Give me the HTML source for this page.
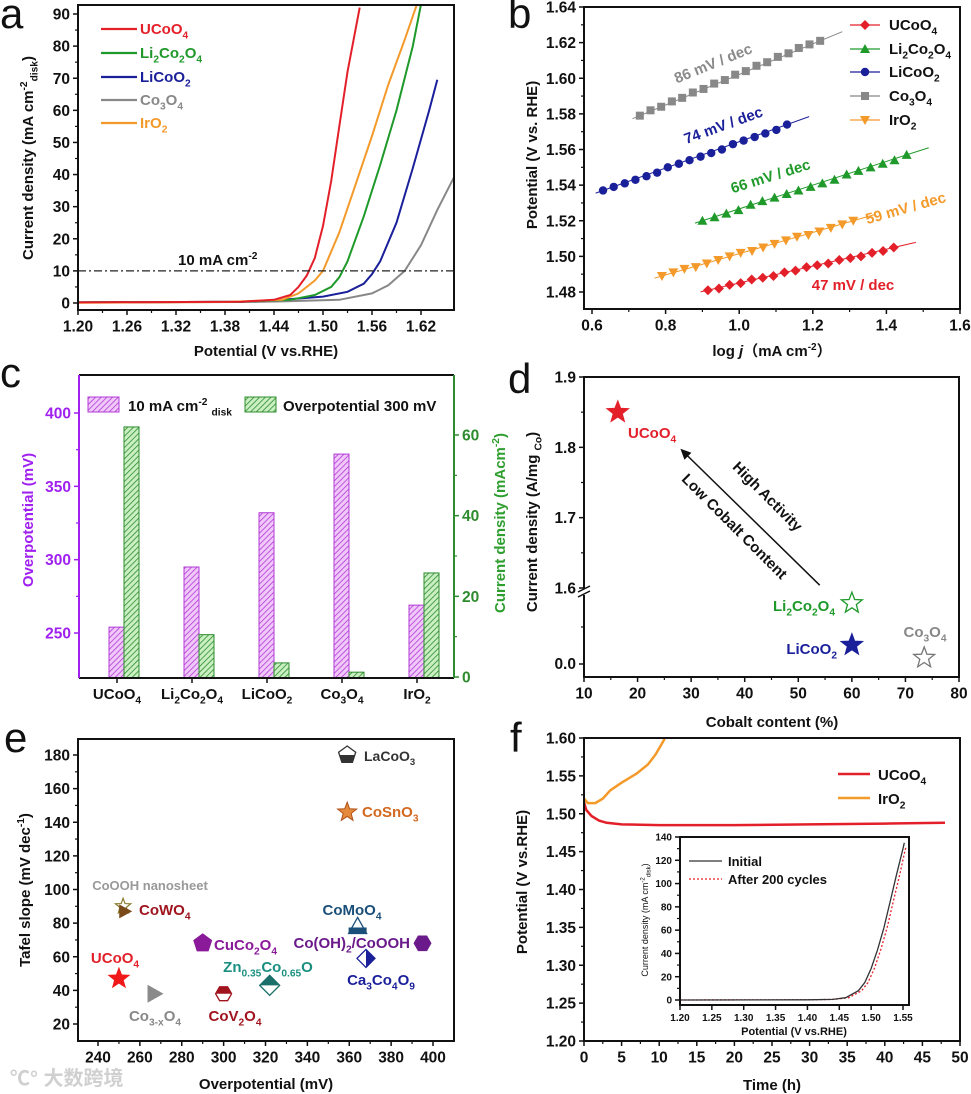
<!DOCTYPE html>
<html><head><meta charset="utf-8">
<style>
html,body{margin:0;padding:0;background:#fff;}
svg{display:block;font-family:"Liberation Sans","Noto Sans CJK SC",sans-serif;}
</style></head>
<body>
<svg id="fig" width="971" height="1094" viewBox="0 0 971 1094">
<defs>
<pattern id="hatchP" patternUnits="userSpaceOnUse" width="4" height="4" patternTransform="rotate(45)">
<rect width="4" height="4" fill="#f0c8fa"/><line x1="0" y1="0" x2="0" y2="4" stroke="#b23ad6" stroke-width="1.6"/></pattern>
<pattern id="hatchG" patternUnits="userSpaceOnUse" width="4" height="4" patternTransform="rotate(45)">
<rect width="4" height="4" fill="#c9efc2"/><line x1="0" y1="0" x2="0" y2="4" stroke="#2e8b2e" stroke-width="1.6"/></pattern>
</defs>
</svg>
<script>
// ---------- Panel a data ----------
const aNames=["UCoO_4","Li_2Co_2O_4","LiCoO_2","Co_3O_4","IrO_2"];
const aColors=["#e3202a","#1f9a2a","#1a1f9a","#888888","#f39a2a"];
const aU_E=[1.20,1.40,1.44,1.46,1.47,1.48,1.49,1.50,1.51,1.52,1.53,1.545];
const aU_J=[0.2,0.4,1,2.5,5,8.5,14,24,38,55,72,92];
const aL2_E=[1.20,1.40,1.46,1.49,1.51,1.52,1.53,1.55,1.57,1.59,1.61,1.62];
const aL2_J=[0.2,0.4,1,2.5,5,8,13,27,43,60,80,93];
const aL_E=[1.20,1.40,1.44,1.50,1.53,1.55,1.56,1.57,1.59,1.61,1.63,1.64];
const aL_J=[0.2,0.4,0.8,2,3.5,6,9,13,25,42,60,69.5];
const aC_E=[1.20,1.40,1.45,1.52,1.56,1.58,1.60,1.62,1.64,1.66];
const aC_J=[0.2,0.3,0.5,1,3,5.5,10,18,29,39];
const aI_E=[1.20,1.38,1.45,1.47,1.49,1.50,1.52,1.54,1.56,1.58,1.60,1.615];
const aI_J=[0.1,0.3,1,3,7,10,22,37,52,68,82,93];
const aXTicks=[1.20,1.26,1.32,1.38,1.44,1.50,1.56,1.62];
const aYTicks=[0,10,20,30,40,50,60,70,80,90];
// ---------- Panel b data ----------
const bU_x=[0.915,0.945,0.974,1.004,1.034,1.064,1.093,1.123,1.153,1.183,1.212,1.242,1.272,1.302,1.331,1.361,1.391,1.42];
const bU_y=[1.481,1.482,1.484,1.485,1.487,1.488,1.489,1.491,1.492,1.494,1.495,1.496,1.498,1.499,1.500,1.502,1.503,1.505];
const bI_x=[0.790,0.821,0.851,0.882,0.912,0.943,0.974,1.004,1.035,1.065,1.096,1.127,1.157,1.188,1.218,1.249,1.280,1.310];
const bI_y=[1.489,1.491,1.493,1.494,1.496,1.498,1.500,1.502,1.503,1.505,1.507,1.509,1.511,1.512,1.514,1.516,1.518,1.520];
const bL2_x=[0.900,0.933,0.965,0.998,1.031,1.063,1.096,1.129,1.161,1.194,1.226,1.259,1.292,1.324,1.357,1.390,1.422,1.455];
const bL2_y=[1.520,1.522,1.524,1.526,1.529,1.531,1.533,1.535,1.537,1.539,1.541,1.543,1.546,1.548,1.550,1.552,1.554,1.557];
const bL_x=[0.630,0.659,0.689,0.718,0.748,0.777,0.806,0.836,0.865,0.895,0.924,0.953,0.983,1.012,1.042,1.071,1.101,1.130];
const bL_y=[1.537,1.539,1.541,1.543,1.545,1.547,1.550,1.552,1.554,1.556,1.558,1.560,1.563,1.565,1.567,1.569,1.571,1.574];
const bC_x=[0.730,0.759,0.788,0.817,0.845,0.874,0.903,0.932,0.961,0.989,1.018,1.047,1.076,1.105,1.134,1.162,1.191,1.220];
const bC_y=[1.579,1.582,1.584,1.587,1.589,1.592,1.594,1.597,1.599,1.602,1.604,1.607,1.609,1.612,1.614,1.617,1.619,1.621];
const bXTicks=[0.6,0.8,1.0,1.2,1.4,1.6];
const bYTicks=[1.48,1.50,1.52,1.54,1.56,1.58,1.60,1.62,1.64];
// ---------- Panel c data ----------
const cCats=["UCoO_4","Li_2Co_2O_4","LiCoO_2","Co_3O_4","IrO_2"];
const cOverpot=[254,295,332,372,269];
const cCurrent=[62,10.5,3.5,1.2,25.8];
const cYLTicks=[250,300,350,400];
const cYRTicks=[0,20,40,60];
// ---------- Panel d data ----------
const dNames=["UCoO_4","Li_2Co_2O_4","LiCoO_2","Co_3O_4"];
const dCobalt=[16.3,60,60,73.5];
const dUpperVal=[1.85,null,null,null];
const dLowerVal=[null,0.80,0.25,0.08];
const dXTicks=[10,20,30,40,50,60,70,80];
const dYUpTicks=[1.6,1.7,1.8,1.9];
// ---------- Panel e data ----------
const eNames=["UCoO_4","Co_{3-x}O_4","CoV_2O_4","Zn_{0.35}Co_{0.65}O","CuCo_2O_4","CoOOH nanosheet","CoWO_4","CoMoO_4","Co(OH)_2/CoOOH","Ca_3Co_4O_9","LaCoO_3","CoSnO_3"];
const eOver=[250,267,300,322,290,252,253,364,395,368,359,359];
const eTafel=[47,38,38,43,68,90,87,78,68,59,180,146];
const eXTicks=[240,260,280,300,320,340,360,380,400];
const eYTicks=[20,40,60,80,100,120,140,160,180];
// ---------- Panel f data ----------
const fU_t=[0,0.3,1,2,3,5,10,20,30,40,48];
const fU_E=[1.515,1.505,1.497,1.491,1.488,1.486,1.485,1.485,1.486,1.487,1.488];
const fI_t=[0,0.5,1.5,2.5,3.5,5,7,8.5,9.5,10.5,11];
const fI_E=[1.52,1.514,1.514,1.52,1.531,1.541,1.553,1.565,1.578,1.595,1.605];
const fInit_E=[1.20,1.40,1.44,1.46,1.48,1.49,1.50,1.51,1.52,1.53,1.54,1.55,1.552];
const fInit_J=[0,0.2,0.5,2,8,15,27,43,62,85,108,130,135];
const fAft_E=[1.20,1.40,1.44,1.465,1.485,1.495,1.505,1.515,1.525,1.535,1.545,1.553,1.555];
const fAft_J=[0,0.2,0.5,2,8,15,27,43,62,85,108,128,132];
const fXTicks=[0,5,10,15,20,25,30,35,40,45,50];
const fYTicks=[1.20,1.25,1.30,1.35,1.40,1.45,1.50,1.55,1.60];
const fIXTicks=[1.20,1.25,1.30,1.35,1.40,1.45,1.50,1.55];
const fIYTicks=[0,20,40,60,80,100,120,140];

// ---------- helpers ----------
const NS="http://www.w3.org/2000/svg";
const svg=document.getElementById('fig');
const TF=15.5;
function mk(tag,attrs,parent){const e=document.createElementNS(NS,tag);for(const k in attrs)e.setAttribute(k,attrs[k]);(parent||svg).appendChild(e);return e;}
function lin(d0,d1,r0,r1){return v=>r0+(v-d0)/(d1-d0)*(r1-r0);}
function grp(name){const g=mk('g',{});


return g;}
function rich(parent,x,y,str,o){
  o=o||{};const fs=o.size||14;
  const t=mk('text',{x:x,y:y,'font-size':fs,'font-weight':o.weight||'bold',fill:o.fill||'#111','text-anchor':o.anchor||'start'},parent);
  if(o.transform)t.setAttribute('transform',o.transform);
  const toks=str.split(/(_\{[^}]*\}|_[^{]|\^\{[^}]*\}|\^[^{])/).filter(s=>s.length);
  let shift=0;
  toks.forEach(tok=>{
    let target=0,size=fs,s=tok;
    if(tok[0]==='_'){target=fs*0.3;size=fs*0.68;s=tok[1]==='{'?tok.slice(2,-1):tok.slice(1);}
    else if(tok[0]==='^'){target=-fs*0.4;size=fs*0.68;s=tok[1]==='{'?tok.slice(2,-1):tok.slice(1);}
    const ts=mk('tspan',{dy:(target-shift).toFixed(2),'font-size':size},t);ts.textContent=s;shift=target;
  });
  return t;
}
function path(parent,pts,attrs){let d=pts.map((p,i)=>(i?'L':'M')+p[0].toFixed(1)+','+p[1].toFixed(1)).join('');return mk('path',Object.assign({d:d,fill:'none'},attrs),parent);}
function box(parent,x0,y0,x1,y1,col){return mk('rect',{x:x0,y:y0,width:x1-x0,height:y1-y0,fill:'none',stroke:col||'#111','stroke-width':2},parent);}
function xTicks(parent,ticks,X,y,minor,x0,x1,fmt,size,col){
  const fs=size||TF;
  ticks.forEach(v=>{const x=X(v);mk('line',{x1:x,y1:y,x2:x,y2:y+5,stroke:col||'#111','stroke-width':1.5},parent);
    rich(parent,x,y+fs+6,fmt(v),{size:fs,anchor:'middle'});});
  if(minor){for(let i=0;i<ticks.length-1;i++){const x=X((ticks[i]+ticks[i+1])/2);if(x>x0&&x<x1)mk('line',{x1:x,y1:y,x2:x,y2:y+3,stroke:col||'#111','stroke-width':1.2},parent);}}
}
function yTicks(parent,ticks,Y,x,fmt,size,col,right,tcol){
  const d=right?1:-1;const fs=size||TF;
  ticks.forEach(v=>{const y=Y(v);mk('line',{x1:x,y1:y,x2:x+5*d,y2:y,stroke:col||'#111','stroke-width':1.5},parent);
    rich(parent,x+8*d,y+fs*0.36,fmt(v),{size:fs,anchor:right?'start':'end',fill:tcol||'#111'});});
  for(let i=0;i<ticks.length-1;i++){const y=Y((ticks[i]+ticks[i+1])/2);mk('line',{x1:x,y1:y,x2:x+3*d,y2:y,stroke:col||'#111','stroke-width':1.2},parent);}
}
function star(cx,cy,r){let p=[];for(let i=0;i<10;i++){const a=-Math.PI/2+i*Math.PI/5;const rr=i%2?r*0.42:r;p.push([cx+rr*Math.cos(a),cy+rr*Math.sin(a)]);}return 'M'+p.map(q=>q[0].toFixed(1)+','+q[1].toFixed(1)).join('L')+'Z';}
function poly(cx,cy,r,n,rot){let p=[];for(let i=0;i<n;i++){const a=(rot===undefined?-Math.PI/2:rot)+i*2*Math.PI/n;p.push([cx+r*Math.cos(a),cy+r*Math.sin(a)]);}return 'M'+p.map(q=>q[0].toFixed(1)+','+q[1].toFixed(1)).join('L')+'Z';}
function letter(x,y,s){const t=mk('text',{x:x,y:y,'font-size':42,fill:'#111'});t.textContent=s;

}

// ================= Panel a =================
(function(){
const g=grp('panel-a-lsv-chart');
const X=lin(1.20,1.62,78,421),Y=lin(0,90,303,14);
const clip=mk('clipPath',{id:'clipA'},svg);mk('rect',{x:78,y:5,width:376,height:305},clip);
const series=[[aU_E,aU_J],[aL2_E,aL2_J],[aL_E,aL_J],[aC_E,aC_J],[aI_E,aI_J]];
[3,2,1,4,0].forEach(i=>{const s=series[i];const p=path(g,s[0].map((e,k)=>[X(e),Y(s[1][k])]),{stroke:aColors[i],'stroke-width':2,'clip-path':'url(#clipA)'});
  
  });
const dl=mk('line',{x1:78,x2:454,y1:Y(10),y2:Y(10),stroke:'#222','stroke-width':1.3,'stroke-dasharray':'8,3,2,3'},g);


rich(g,178,265,'10 mA cm^{-2}',{size:15});
box(g,78,5,454,310);
xTicks(g,aXTicks,X,310,true,78,454,v=>v.toFixed(2));
yTicks(g,aYTicks,Y,78,v=>String(v));
rich(g,266,356,'Potential (V vs.RHE)',{size:15,anchor:'middle'});
rich(g,0,0,'Current density (mA cm^{-2}_{disk})',{size:15,anchor:'middle',transform:'translate(33,158) rotate(-90)'});
const ly=[29,53,77,100,123];
aNames.forEach((n,i)=>{const le=grp('legend-entry-a-'+i);g.appendChild(le);
  mk('line',{x1:101,x2:137,y1:ly[i],y2:ly[i],stroke:aColors[i],'stroke-width':2.2},le);
  rich(le,140,ly[i]+5,n,{size:15,fill:aColors[i]});});
})();
letter(0,28,'a');

// ================= Panel b =================
(function(){
const g=grp('panel-b-tafel-chart');
const X=lin(0.6,1.6,592,960),Y=lin(1.48,1.64,292,7);
const cols=["#e3202a","#1f9a2a","#1a1f9a","#888888","#f39a2a"];
const data=[[bU_x,bU_y,'diamond'],[bL2_x,bL2_y,'tri'],[bL_x,bL_y,'circle'],[bC_x,bC_y,'square'],[bI_x,bI_y,'tridown']];
function marker(par,type,x,y,c){
  if(type==='diamond')return mk('path',{d:`M${x},${y-5}L${x+5},${y}L${x},${y+5}L${x-5},${y}Z`,fill:c},par);
  if(type==='tri')return mk('path',{d:`M${x},${y-5}L${x+5},${y+4}L${x-5},${y+4}Z`,fill:c},par);
  if(type==='tridown')return mk('path',{d:`M${x},${y+5}L${x+5},${y-4}L${x-5},${y-4}Z`,fill:c},par);
  if(type==='circle')return mk('circle',{cx:x,cy:y,r:4.2,fill:c},par);
  return mk('rect',{x:x-4,y:y-4,width:8,height:8,fill:c},par);
}
data.forEach((d,i)=>{
  const sg=grp('series-b-'+aNames[i].replace(/_/g,'').toLowerCase());g.appendChild(sg);
  const n=d[0].length;const sl=(d[1][n-1]-d[1][0])/(d[0][n-1]-d[0][0]);
  mk('line',{x1:X(d[0][0]-0.02),y1:Y(d[1][0]-0.02*sl),x2:X(d[0][n-1]+0.06),y2:Y(d[1][n-1]+0.06*sl),stroke:cols[i],'stroke-width':1},sg);
  d[0].forEach((x,k)=>{const m=marker(sg,d[2],X(x),Y(d[1][k]),cols[i]);
    
    });
});
box(g,584,7,960,309);
xTicks(g,bXTicks,X,309,true,584,960,v=>v.toFixed(1));
yTicks(g,bYTicks,Y,584,v=>v.toFixed(2));
const xt=rich(g,772,356,'log ',{size:15,anchor:'middle'});
const ti=mk('tspan',{'font-style':'italic'},xt);ti.textContent='j';
const t2=mk('tspan',{},xt);t2.textContent='（mA cm';
const t3=mk('tspan',{dy:-6,'font-size':10},xt);t3.textContent='-2';
const t4=mk('tspan',{dy:6},xt);t4.textContent='）';
rich(g,0,0,'Potential (V vs. RHE)',{size:15,anchor:'middle',transform:'translate(537,155) rotate(-90)'});
const labs=[['86 mV / dec',715,68,-22,'#8a8a8a'],['74 mV / dec',725,130,-20,'#1a1f9a'],['66 mV / dec',772,181,-17.5,'#1f9a2a'],['59 mV / dec',907,213,-15.8,'#f39a2a'],['47 mV / dec',853,290,0,'#e3202a']];
labs.forEach(l=>{const t=rich(g,0,0,l[0],{size:15,anchor:'middle',fill:l[4],transform:`translate(${l[1]},${l[2]}) rotate(${l[3]})`});
  
  });
const ly=[25,49,72,96,120];
data.forEach((d,i)=>{const le=grp('legend-entry-b-'+i);g.appendChild(le);
  mk('line',{x1:850,x2:880,y1:ly[i],y2:ly[i],stroke:cols[i],'stroke-width':1.2},le);
  marker(le,d[2],865,ly[i],cols[i]);
  rich(le,889,ly[i]+5,aNames[i],{size:15});});
})();
letter(508,28,'b');

// ================= Panel c =================
(function(){
const g=grp('panel-c-bar-chart');
const Yl=lin(250,400,633,413),Yr=lin(0,60,677,435);
const centers=[117,192,267,342,417];
const base=678;
cCats.forEach((c,i)=>{
  const cx=centers[i];
  const b1=mk('rect',{x:cx-8,y:Yl(cOverpot[i]),width:15,height:base-Yl(cOverpot[i]),fill:'url(#hatchP)',stroke:'#b23ad6','stroke-width':1},g);
  
  
  const b2=mk('rect',{x:cx+7,y:Yr(cCurrent[i]),width:15,height:base-Yr(cCurrent[i]),fill:'url(#hatchG)',stroke:'#2e8b2e','stroke-width':1},g);
  
  
  mk('line',{x1:cx,x2:cx,y1:base,y2:base+5,stroke:'#111','stroke-width':1.5},g);
  rich(g,cx,699,c,{size:15,anchor:'middle'});
});
mk('line',{x1:79,x2:454,y1:375,y2:375,stroke:'#111','stroke-width':2},g);
mk('line',{x1:79,x2:454,y1:678,y2:678,stroke:'#111','stroke-width':2},g);
mk('line',{x1:79,x2:79,y1:375,y2:678,stroke:'#a020f0','stroke-width':2},g);
mk('line',{x1:454,x2:454,y1:375,y2:678,stroke:'#2e8b2e','stroke-width':2},g);
yTicks(g,cYLTicks,Yl,79,v=>String(v),TF,'#a020f0',false,'#a020f0');
yTicks(g,cYRTicks,Yr,454,v=>String(v),TF,'#2e8b2e',true,'#2e8b2e');
rich(g,0,0,'Overpotential (mV)',{size:15,anchor:'middle',fill:'#a020f0',transform:'translate(33,520) rotate(-90)'});
rich(g,0,0,'Current density (mAcm^{-2})',{size:15,anchor:'middle',fill:'#2e9e2e',transform:'translate(505,523) rotate(-90)'});
const l1=grp('legend-entry-c-overpotential');g.appendChild(l1);
mk('rect',{x:88,y:397,width:31,height:15,fill:'url(#hatchP)',stroke:'#b23ad6','stroke-width':1},l1);
rich(l1,128,411,'10 mA cm^{-2} _{disk}',{size:15});
const l2=grp('legend-entry-c-current');g.appendChild(l2);
mk('rect',{x:245,y:397,width:31,height:15,fill:'url(#hatchG)',stroke:'#2e8b2e','stroke-width':1},l2);
rich(l2,283,411,'Overpotential 300 mV',{size:15});
})();
letter(0,387,'c');

// ================= Panel d =================
(function(){
const g=grp('panel-d-scatter-chart');
const X=lin(10,80,584,959),Yu=lin(1.6,1.9,588,377),Yl=lin(0,1,664,588);
box(g,584,377,959,677);
xTicks(g,dXTicks,X,677,true,584,959,v=>String(v));
yTicks(g,dYUpTicks,Yu,584,v=>v.toFixed(1));
mk('line',{x1:584,y1:664,x2:579,y2:664,stroke:'#111','stroke-width':1.5},g);
rich(g,576,669,'0.0',{size:TF,anchor:'end'});
mk('line',{x1:584,y1:627,x2:581,y2:627,stroke:'#111','stroke-width':1.2},g);
mk('rect',{x:580,y:589,width:8,height:6,fill:'#fff'},g);
mk('line',{x1:578,y1:592,x2:590,y2:586,stroke:'#111','stroke-width':1.5},g);
mk('line',{x1:578,y1:597,x2:590,y2:591,stroke:'#111','stroke-width':1.5},g);
const fills=['#e3202a','#fff','#1a1f9a','#fff'];
const strokes=['#e3202a','#1f9a2a','#1a1f9a','#777'];
const labCol=['#e3202a','#1f9a2a','#1a1f9a','#888'];
const labPos=[[628,438,'start'],[835,611,'end'],[837,654,'end'],[925,641,'middle']];
dNames.forEach((n,i)=>{
  const y=dUpperVal[i]!==null?Yu(dUpperVal[i]):Yl(dLowerVal[i]);
  const s=mk('path',{d:star(X(dCobalt[i]),y,11),fill:fills[i],stroke:strokes[i],'stroke-width':1.3},g);
  
  
  rich(g,labPos[i][0],labPos[i][1]-(i===3?4:0),n,{size:15,anchor:labPos[i][2],fill:labCol[i]});
});
const ar=grp('trend-arrow');g.appendChild(ar);
const x1=X(54),y1=Yu(1.604),x2=X(28),y2=Yu(1.798);
mk('line',{x1:x1,y1:y1,x2:x2+5,y2:y2+5,stroke:'#111','stroke-width':1.5},ar);
mk('path',{d:`M${x2},${y2}L${x2+11},${y2+4}L${x2+4},${y2+11}Z`,fill:'#111'},ar);
rich(g,0,0,'High Activity',{size:15,anchor:'middle',transform:'translate(764,500) rotate(45)'});
rich(g,0,0,'Low Cobalt Content',{size:15,anchor:'middle',transform:'translate(731,530) rotate(45)'});
rich(g,0,0,'Current density (A/mg _{Co})',{size:15,anchor:'middle',transform:'translate(537,522) rotate(-90)'});
rich(g,772,727,'Cobalt content (%)',{size:15,anchor:'middle'});
})();
letter(508,393,'d');

// ================= Panel e =================
(function(){
const g=grp('panel-e-tafel-vs-overpotential');
const X=lin(240,400,98,433),Y=lin(20,180,1024,755);
box(g,78,739,454,1041);
xTicks(g,eXTicks,X,1041,true,78,454,v=>String(v));
yTicks(g,eYTicks,Y,78,v=>String(v));
rich(g,266,1089,'Overpotential (mV)',{size:15,anchor:'middle'});
rich(g,0,0,'Tafel slope (mV dec^{-1})',{size:15,anchor:'middle',transform:'translate(30,890) rotate(-90)'});
const lab=[[115,963,'middle','#e3202a',15],[155,1021,'middle','#888',15],[235,1021,'middle','#a0141e',15],[268,972,'middle','#1a8f80',15],[214,950,'start','#8a1a9a',15],[150,890,'middle','#999',13],[139,915,'start','#a0141e',15],[352,915,'middle','#1a4f7a',15],[410,948,'end','#6a1a8a',15],[381,985,'middle','#1a1f9a',15],[364,761,'start','#333',14],[362,817,'start','#d2691e',15]];
eNames.forEach((n,i)=>{
  const x=X(eOver[i]),y=Y(eTafel[i]);
  const mg=grp('marker-'+n.replace(/[_{}()\/ ]/g,'').toLowerCase());g.appendChild(mg);
  switch(i){
    case 0: mk('path',{d:star(x,y,12),fill:'#f01818'},mg);break;
    case 1: mk('path',{d:`M${x-7},${y-9}L${x+9},${y}L${x-7},${y+9}Z`,fill:'#8a8a8a'},mg);break;
    case 2: mk('path',{d:poly(x,y,8,6,0),fill:'#fff',stroke:'#a0141e','stroke-width':1.3},mg);
            mk('path',{d:`M${x-8},${y}L${x-4},${y-7}L${x+4},${y-7}L${x+8},${y}Z`,fill:'#a0141e'},mg);break;
    case 3: mk('path',{d:`M${x},${y-10}L${x+10},${y}L${x},${y+10}L${x-10},${y}Z`,fill:'#fff',stroke:'#1a6f6a','stroke-width':1.3},mg);
            mk('path',{d:`M${x},${y-10}L${x+10},${y}L${x-10},${y}Z`,fill:'#1a6f6a'},mg);break;
    case 4: mk('path',{d:poly(x,y,10,5),fill:'#8a1a9a'},mg);break;
    case 5: mk('path',{d:star(x,y,8),fill:'#fff',stroke:'#8a7a2a','stroke-width':1.2},mg);break;
    case 6: mk('path',{d:`M${x-6},${y-7}L${x+7},${y}L${x-6},${y+7}Z`,fill:'#7a4a1a'},mg);break;
    case 7: mk('path',{d:`M${x},${y-9}L${x+9},${y+7}L${x-9},${y+7}Z`,fill:'#fff',stroke:'#1a4f7a','stroke-width':1.3},mg);
            mk('rect',{x:x-9,y:y+1,width:18,height:6,fill:'#1a4f7a'},mg);break;
    case 8: mk('path',{d:poly(x,y,9,6,0),fill:'#6a1a8a'},mg);break;
    case 9: mk('path',{d:`M${x},${y-9}L${x+9},${y}L${x},${y+9}L${x-9},${y}Z`,fill:'#fff',stroke:'#1a1f9a','stroke-width':1.3},mg);
            mk('path',{d:`M${x},${y-9}L${x+9},${y}L${x},${y+9}Z`,fill:'#1a1f9a'},mg);break;
    case 10: mk('path',{d:poly(x,y,9,5),fill:'#fff',stroke:'#333','stroke-width':1.3},mg);
            mk('path',{d:`M${x-8},${y}L${x+8},${y}L${x+5},${y+7}L${x-5},${y+7}Z`,fill:'#333'},mg);break;
    case 11: mk('path',{d:star(x,y,10),fill:'#e58a3a',stroke:'#b0501a','stroke-width':1},mg);break;
  }
  rich(g,lab[i][0],lab[i][1],n,{size:lab[i][4],anchor:lab[i][2],fill:lab[i][3]});
});
const wm=mk('text',{x:10,y:1085,'font-size':20,fill:'#d0d0d0','font-weight':'bold'},svg);
wm.textContent='℃° 大数跨境';


})();
letter(4,752,'e');

// ================= Panel f =================
(function(){
const g=grp('panel-f-stability-chart');
const X=lin(0,50,584,960),Y=lin(1.2,1.6,1041,738);
const clip=mk('clipPath',{id:'clipF'},svg);mk('rect',{x:584,y:738,width:376,height:303},clip);
const pi=path(g,fI_t.map((t,k)=>[X(t),Y(fI_E[k])]),{stroke:'#f39a2a','stroke-width':2.5,'clip-path':'url(#clipF)'});


const pu=path(g,fU_t.map((t,k)=>[X(t),Y(fU_E[k])]),{stroke:'#e3202a','stroke-width':2.5,'clip-path':'url(#clipF)'});


box(g,584,738,960,1041);
xTicks(g,fXTicks,X,1041,true,584,960,v=>String(v));
yTicks(g,fYTicks,Y,584,v=>v.toFixed(2));
rich(g,772,1090,'Time (h)',{size:15,anchor:'middle'});
rich(g,0,0,'Potential (V vs.RHE)',{size:15,anchor:'middle',transform:'translate(527,882) rotate(-90)'});
const l1=grp('legend-entry-f-ucoo4');g.appendChild(l1);
mk('line',{x1:838,x2:870,y1:774,y2:774,stroke:'#e3202a','stroke-width':2.5},l1);
rich(l1,878,780,'UCoO_4',{size:15});
const l2=grp('legend-entry-f-iro2');g.appendChild(l2);
mk('line',{x1:838,x2:870,y1:798,y2:798,stroke:'#f39a2a','stroke-width':2.5},l2);
rich(l2,878,804,'IrO_2',{size:15});
// inset
const ig=grp('inset-lsv-chart');g.appendChild(ig);
const IX=lin(1.20,1.55,680,903),IY=lin(0,140,1000,837);
mk('rect',{x:680,y:837,width:229,height:168,fill:'#fff'},ig);
const pa=path(ig,fAft_E.map((e,k)=>[IX(e),IY(fAft_J[k])]),{stroke:'#e3202a','stroke-width':1.3,'stroke-dasharray':'2,2'});


const pn=path(ig,fInit_E.map((e,k)=>[IX(e),IY(fInit_J[k])]),{stroke:'#333','stroke-width':1.3});


box(ig,680,837,909,1005);
xTicks(ig,fIXTicks,IX,1005,false,680,909,v=>v.toFixed(2),10);
yTicks(ig,fIYTicks,IY,680,v=>String(v),10);
rich(ig,794,1035,'Potential (V vs.RHE)',{size:11,anchor:'middle'});
rich(ig,0,0,'Current density (mA cm^{-2}_{disk})',{size:9,anchor:'middle',weight:'normal',transform:'translate(648,920) rotate(-90)'});
mk('line',{x1:689,x2:722,y1:861,y2:861,stroke:'#333','stroke-width':1.3},ig);
rich(ig,728,866,'Initial',{size:13});
mk('line',{x1:689,x2:722,y1:879,y2:879,stroke:'#e3202a','stroke-width':1.3,'stroke-dasharray':'2,2'},ig);
rich(ig,728,884,'After 200 cycles',{size:13});
})();
letter(510,752,'f');
</script>
</body></html>
